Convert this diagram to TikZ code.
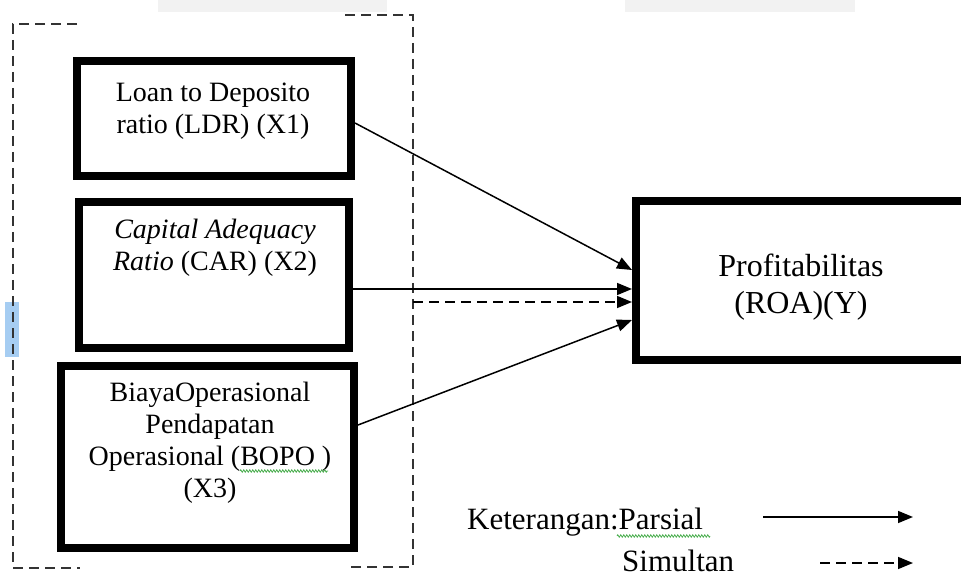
\documentclass[tikz,border=0pt]{standalone}
\usepackage{fontspec}
\setmainfont{Liberation Serif}
\usetikzlibrary{arrows.meta,decorations.pathmorphing}
\definecolor{hilite}{HTML}{A6CDF2}
\definecolor{graybar}{HTML}{F2F2F2}
\definecolor{framecol}{HTML}{333333}
\definecolor{squigcol}{HTML}{4CAF50}
\begin{document}
\begin{tikzpicture}[x=1pt,y=-1pt,
  boxs/.style={draw=black,line width=8pt,fill=white,inner sep=0pt},
  txt/.style={align=center,font=\fontsize{28}{32}\selectfont,inner sep=0pt},
  legtxt/.style={anchor=base west,font=\fontsize{31}{36}\selectfont,inner sep=0pt},
  frame/.style={draw=framecol,line width=2pt,dash pattern=on 10pt off 6pt},
  arr/.style={draw=black,line width=1.5pt,-{Triangle[length=15pt,width=12pt]}},
  darr/.style={arr,dash pattern=on 10pt off 6pt},
  squig/.style={draw=squigcol,line width=0.8pt,decorate,decoration={zigzag,segment length=3pt,amplitude=1.2pt}}]
\useasboundingbox (0,0) rectangle (961,577);
\clip (0,0) rectangle (961,577);
\fill[graybar] (158,0) rectangle (387,12);
\fill[graybar] (625,0) rectangle (855,12);
\fill[hilite] (5,302) rectangle (19,357);
% dashed frame
\draw[frame] (77,24) -- (13,24) -- (13,568) -- (80,568);
\draw[frame] (345,15) -- (413,15) -- (413,567) -- (347,567);
% boxes
\node[boxs,minimum width=274pt,minimum height=115pt] (ldr) at (214,118.5) {};
\node[boxs,minimum width=270pt,minimum height=146pt] (car) at (214,275) {};
\node[boxs,minimum width=293pt,minimum height=182pt] (bopo) at (207.5,457) {};
\node[boxs,minimum width=360pt,minimum height=159pt] (roa) at (816,280.5) {};
% texts
\node[txt] (ldrt) at (213,111) {Loan to Deposito\\ratio (LDR) (X1)};
\node[txt] (cart) at (215,248) {\textit{Capital Adequacy}\\\textit{Ratio} (CAR) (X2)};
\node[txt] (bopot) at (210,443) {BiayaOperasional\\Pendapatan\\Operasional (BOPO )\\(X3)};
\node[txt,font=\fontsize{32}{37}\selectfont] (roat) at (801,287) {Profitabilitas\\(ROA)(Y)};
% connectors
\draw[arr] ([yshift=-4.5pt]ldr.east) -- ([yshift=10.5pt]roa.west);
\draw[arr] ([yshift=-14pt]car.east) -- ([yshift=-8.5pt]roa.west);
\coordinate (fr) at (413,302);
\draw[darr] (fr) -- ([yshift=-21.5pt]roa.west);
\draw[arr] ([yshift=32pt]bopo.east) -- ([yshift=-39.5pt]roa.west);
% legend
\node[legtxt] (ket) at (467,529) {Keterangan:Parsial};
\node[legtxt] (sim) at (622,571) {Simultan};
\coordinate (la1) at (763,517);
\coordinate (la2) at (913,517);
\coordinate (lb1) at (820,563);
\coordinate (lb2) at (913,563);
\draw[arr] (la1) -- (la2);
\draw[darr] (lb1) -- (lb2);
% spell-check marks
\draw[squig] (617,536) -- (710,536);
\draw[squig] (240,471) -- (328,471);
\end{tikzpicture}
\end{document}
